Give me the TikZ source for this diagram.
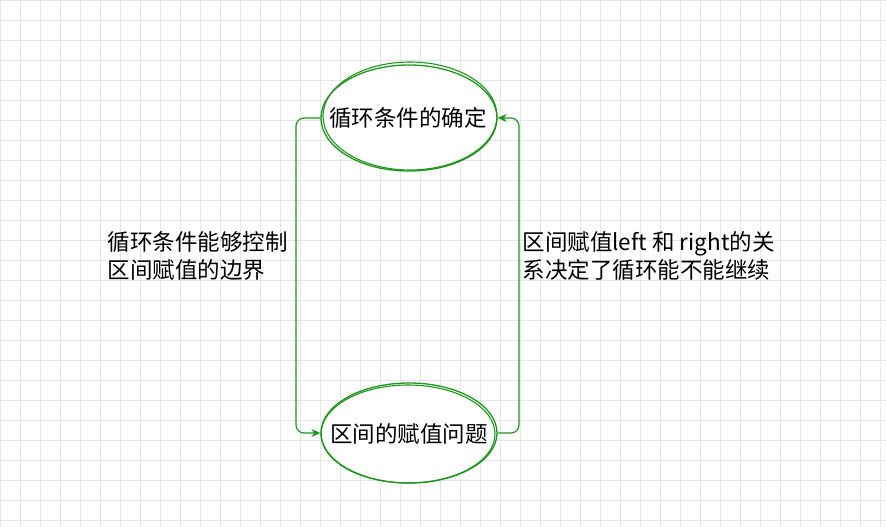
\documentclass[tikz,border=0pt]{standalone}
\usepackage{fontspec}
\newfontfamily\cjk{Noto Sans CJK SC}
\usetikzlibrary{arrows.meta,shapes.geometric}
\definecolor{sketchgreen}{RGB}{30,150,30}
\tikzset{
  state/.style={ellipse,draw=sketchgreen,line width=1.3pt,fill=white,minimum width=176pt,minimum height=106pt,inner sep=0pt},
  label text/.style={font=\cjk\fontsize{22.5}{28}\selectfont},
  link/.style={draw=sketchgreen,line width=1.2pt,rounded corners=8pt,-{Stealth[length=9pt,width=8pt]}},
  note/.style={align=left,anchor=west,font=\cjk\fontsize{22.5}{28}\selectfont}
}
\begin{document}
\begin{tikzpicture}[x=1pt,y=-1pt]
  \useasboundingbox (0,0) rectangle (886,527);
  \fill[white] (0,0) rectangle (886,527);
  \draw[black!10,step=20pt] (0,0) grid (886,527);

  \node[state] (cond) at (409,118) {};
  \node[state,minimum height=100pt] (assign) at (409,433) {};
  % sketchy second stroke
  \draw[sketchgreen,line width=1.1pt] (410,116) ellipse (87pt and 54pt);
  \draw[sketchgreen,line width=1.1pt] (408,434) ellipse (87pt and 49pt);
  \node[label text] at (408,118) {循环条件的确定};
  \node[label text] at (409,434) {区间的赋值问题};

  \coordinate (lt) at (296,118);
  \coordinate (lb) at (296,433);
  \coordinate (rb) at (519,433);
  \coordinate (rt) at (519,118);
  \draw[link] (cond.west) -- (lt) -- (lb) -- (assign.west);
  \draw[link] (assign.east) -- (rb) -- (rt) -- (cond.east);

  \node[note] (lnote) at (104,256) {循环条件能够控制\\区间赋值的边界};
  \node[note] (rnote) at (519,256) {区间赋值left 和 right的关\\系决定了循环能不能继续};
\end{tikzpicture}
\end{document}
